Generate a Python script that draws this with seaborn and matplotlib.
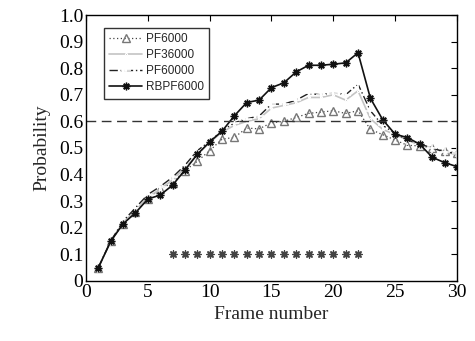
import matplotlib
matplotlib.use("Agg")
import matplotlib.pyplot as plt
import seaborn as sns
import numpy as np
import pandas as pd

frames = list(range(1, 31))
pf6000 = [0.05, 0.15, 0.215, 0.26, 0.31, 0.345, 0.37, 0.415, 0.45, 0.49,
          0.533, 0.54, 0.575, 0.572, 0.595, 0.60, 0.615, 0.63, 0.635, 0.64,
          0.63, 0.64, 0.57, 0.55, 0.53, 0.51, 0.508, 0.50, 0.49, 0.48]
pf36000 = [0.05, 0.15, 0.22, 0.265, 0.315, 0.345, 0.38, 0.425, 0.475, 0.52,
           0.56, 0.585, 0.60, 0.61, 0.65, 0.66, 0.67, 0.69, 0.69, 0.70,
           0.68, 0.715, 0.61, 0.57, 0.55, 0.53, 0.51, 0.50, 0.485, 0.475]
pf60000 = [0.05, 0.15, 0.225, 0.275, 0.325, 0.355, 0.39, 0.435, 0.49, 0.525,
           0.565, 0.595, 0.61, 0.62, 0.665, 0.665, 0.68, 0.705, 0.70, 0.708,
           0.70, 0.74, 0.64, 0.585, 0.555, 0.53, 0.515, 0.50, 0.485, 0.48]
rbpf6000 = [0.05, 0.149, 0.215, 0.256, 0.308, 0.323, 0.36, 0.417, 0.476, 0.523,
            0.563, 0.621, 0.671, 0.68, 0.727, 0.745, 0.786, 0.811, 0.811, 0.815,
            0.82, 0.858, 0.687, 0.606, 0.552, 0.539, 0.514, 0.465, 0.445, 0.43]
occl_frames = list(range(7, 23))
occl_level = [0.1] * len(occl_frames)
threshold = 0.6

sns.set_theme(style="white")
plt.rcParams['font.family'] = ['Liberation Serif', 'DejaVu Serif']

fig = plt.figure(figsize=(4.75, 3.41), dpi=100)
ax = fig.add_axes([0.181, 0.176, 0.781, 0.780])

star = (8, 2, 0)
series = [
    ("PF6000", pf6000, dict(color="#444444", linestyle=(0, (1, 2)), marker="^",
                            markerfacecolor="none", markeredgecolor="#777777",
                            markersize=5.5, markeredgewidth=1.0, linewidth=0.9)),
    ("PF36000", pf36000, dict(color="#c4c4c4", linestyle="-", marker=".",
                              markersize=3, linewidth=1.2)),
    ("PF60000", pf60000, dict(color="#222222", linestyle=(0, (6, 2, 1, 2)), marker="+",
                              markersize=7, markeredgewidth=1.2, linewidth=1.0)),
    ("RBPF6000", rbpf6000, dict(color="#111111", linestyle="-", marker="o",
                                markersize=5.5, markeredgewidth=1.0, linewidth=1.2)),
]
for name, vals, kw in series:
    df = pd.DataFrame({"frame": frames, "p": vals})
    sns.lineplot(data=df, x="frame", y="p", ax=ax, label=name, **kw)
# switch the RBPF markers to asterisk-stars
rb_line = ax.lines[-1]
rb_line.set_marker(star)
rb_line.set_markeredgecolor("#111111")

dfo = pd.DataFrame({"frame": occl_frames, "p": occl_level})
sns.scatterplot(data=dfo, x="frame", y="p", ax=ax, marker=star, s=26,
                color="#444444", linewidth=1.0, legend=False)
ax.axhline(threshold, color="#333333", linestyle=(0, (7, 4)), linewidth=1.0)

ax.set_xlim(0, 30)
ax.set_ylim(0, 1.0)
ax.set_xticks([0, 5, 10, 15, 20, 25, 30])
ax.set_yticks(np.round(np.arange(0, 1.01, 0.1), 1))
ax.set_yticklabels(["0"] + [f"{v:.1f}" for v in np.arange(0.1, 1.01, 0.1)])
ax.tick_params(direction="in", top=True, right=True, labelsize=14, length=4,
               width=0.8, pad=2, colors="black")
for s in ax.spines.values():
    s.set_color("black")
    s.set_linewidth(1.0)
ax.set_xlabel("Frame number", fontsize=14, labelpad=4)
ax.set_ylabel("Probability", fontsize=14, labelpad=6)

leg = ax.legend(loc="upper left", bbox_to_anchor=(0.033, 0.975),
                prop={"family": "Liberation Sans", "size": 8.5},
                frameon=True, fancybox=False, edgecolor="black",
                handlelength=2.8, borderpad=0.45, labelspacing=0.35,
                handletextpad=0.3)
leg.get_frame().set_linewidth(1.0)
leg.legend_handles[-1].set_marker(star)

fig.savefig("out.png", dpi=100)
